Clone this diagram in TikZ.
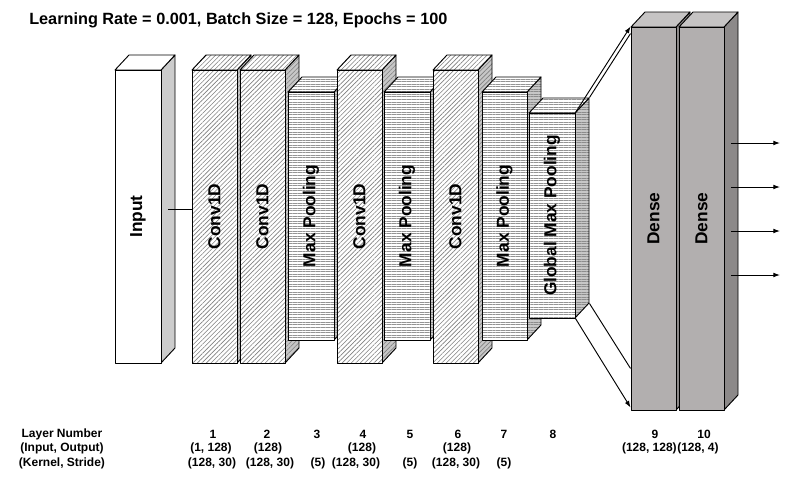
\documentclass[tikz,border=0pt]{standalone}
\usepackage{fontspec}
\setmainfont{Liberation Sans}
\usetikzlibrary{patterns.meta,calc,arrows.meta}
\definecolor{densefront}{RGB}{178,175,175}
\definecolor{densetop}{RGB}{198,196,196}
\definecolor{denseside}{RGB}{140,137,137}
\tikzset{
  faceline/.style={draw=black, line width=0.7pt, line join=round},
  hatch/.style={preaction={fill=white}, pattern={Lines[angle=45,distance=2.4pt,line width=0.45pt]}, pattern color=black!50},
  hatchside/.style={preaction={fill=black!22}, pattern={Lines[angle=45,distance=2.4pt,line width=0.45pt]}, pattern color=black!50},
  hlines/.style={preaction={fill=white}, pattern={Lines[angle=0,distance=1.9pt,line width=0.4pt]}, pattern color=black!42},
  hlinesside/.style={preaction={fill=black!22}, pattern={Lines[angle=0,distance=1.9pt,line width=0.4pt]}, pattern color=black!45},
  plainfront/.style={fill=white},
  plainside/.style={fill=black!20},
  densef/.style={fill=densefront},
  denset/.style={fill=densetop},
  denses/.style={fill=denseside},
  lbl/.style={rotate=90, inner sep=0pt, font=\fontsize{13}{15}\selectfont\bfseries},
  conn/.style={draw=black, line width=0.7pt},
  tip/.style={-{Latex[length=5pt,width=3.6pt]}},
  lab/.style={inner sep=0pt, font=\fontsize{9}{10}\selectfont\bfseries},
}
% #1 name, #2 x0, #3 x1, #4 y0, #5 y1, #6 front, #7 side, #8 top, #9 label
\newcommand\layerbox[9]{%
  \path[faceline,#7] (#3,#4) -- ++(14,-15) -- ++(0,#5-#4) -- (#3,#5) -- cycle;
  \path[faceline,#8] (#2,#4) -- ++(14,-15) -- ++(#3-#2,0) -- (#3,#4) -- cycle;
  \node[faceline,#6,inner sep=0pt,minimum width={(#3-#2)*0.75pt},minimum height={(#5-#4)*0.75pt}] (#1) at ({(#2+#3)/2},{(#4+#5)/2}) {};
  \node[lbl] (#1-t) at (#1.center) {#9};
}
\begin{document}
\begin{tikzpicture}[x=0.75pt,y=-0.75pt]
\useasboundingbox (0,0) rectangle (797,497);
\node[anchor=west, inner sep=0pt, font=\fontsize{12.2}{14}\selectfont\bfseries] (title) at (29,20) {Learning Rate = 0.001, Batch Size = 128, Epochs = 100};

\layerbox{in}{115}{161}{70}{363}{plainfront}{plainside}{plainfront}{Input}
\layerbox{c1}{192}{237}{70}{363}{hatch}{hatchside}{hatch}{Conv1D}
\layerbox{c2}{240}{285}{70}{363}{hatch}{hatchside}{hatch}{Conv1D}
\layerbox{m3}{288}{334}{92}{340}{hlines}{hlinesside}{hlines}{Max Pooling}
\layerbox{c4}{337}{382}{70}{363}{hatch}{hatchside}{hatch}{Conv1D}
\layerbox{m5}{384}{430}{92}{340}{hlines}{hlinesside}{hlines}{Max Pooling}
\layerbox{c6}{433}{478}{70}{363}{hatch}{hatchside}{hatch}{Conv1D}
\layerbox{m7}{482}{527}{92}{340}{hlines}{hlinesside}{hlines}{Max Pooling}
\layerbox{gmp}{529}{575}{113}{318}{hlines}{hlinesside}{hlines}{Global Max Pooling}
\layerbox{d9}{631}{676}{27}{410}{densef}{denses}{denset}{Dense}
\layerbox{d10}{679}{724}{27}{410}{densef}{denses}{denset}{Dense}

% input -> conv1
\coordinate (inS) at ($(in.east)+(7,-7.5)$);
\draw[conn] (inS) -- (inS -| c1.west);

% gmp -> dense
\coordinate (gbt) at ($(gmp.north east)+(14,-15)$);
\coordinate (gbb) at ($(gmp.south east)+(14,-15)$);
\draw[conn,tip] (gmp.north east) -- (d9.north west);
\draw[conn] (gbt) -- ($(d9.north west)+(0,7)$);
\draw[conn] (gbb) -- ($(d9.south west)+(0,-42)$);
\draw[conn,tip] (gmp.south east) -- ($(d9.south west)+(0,-3)$);

% outputs
\foreach \i/\yy in {1/143,2/187,3/231,4/275}{
  \coordinate (o\i) at (731,\yy);
  \coordinate (e\i) at (780,\yy);
  \draw[conn,tip] (o\i) -- (e\i);
}

% bottom labels
\node[lab] (hdr1) at (62,434) {Layer Number};
\node[lab] (hdr2) at (62,448) {(Input, Output)};
\node[lab] (hdr3) at (62,463) {(Kernel, Stride)};

\node[lab] (n1) at (213,434) {1};
\node[lab] (n2) at (267,434) {2};
\node[lab] (n3) at (317,434) {3};
\node[lab] (n4) at (363,434) {4};
\node[lab] (n5) at (410,434) {5};
\node[lab] (n6) at (458,434) {6};
\node[lab] (n7) at (504,434) {7};
\node[lab] (n8) at (553,434) {8};
\node[lab] (n9) at (655,434) {9};
\node[lab] (n10) at (704,434) {10};

\node[lab] (io1) at (211,448) {(1, 128)};
\node[lab] (io2) at (268,448) {(128)};
\node[lab] (io4) at (362,448) {(128)};
\node[lab] (io6) at (457,448) {(128)};
\node[lab,anchor=east] (io9) at (677,448) {(128, 128)};
\node[lab,anchor=west] (io10) at (677,448) {(128, 4)};

\node[lab] (ks1) at (212,463) {(128, 30)};
\node[lab] (ks2) at (270,463) {(128, 30)};
\node[lab] (ks3) at (318,463) {(5)};
\node[lab] (ks4) at (356,463) {(128, 30)};
\node[lab] (ks5) at (410,463) {(5)};
\node[lab] (ks6) at (456,463) {(128, 30)};
\node[lab] (ks7) at (504,463) {(5)};
\end{tikzpicture}
\end{document}
